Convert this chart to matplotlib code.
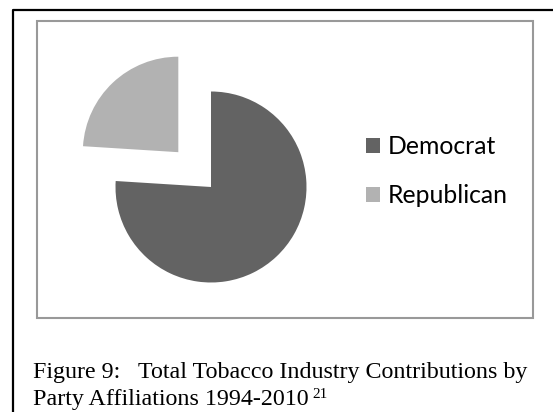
import matplotlib
matplotlib.use('Agg')
import matplotlib.pyplot as plt
from matplotlib.lines import Line2D
from matplotlib.patches import Rectangle

parties = ['Democrat', 'Republican']
shares = [76, 24]
colors = ['#636363', '#b2b2b2']
caption_1 = 'Figure 9:   Total Tobacco Industry Contributions by'
caption_2 = 'Party Affiliations 1994-2010'
footnote = '21'

W, H = 553, 412
fig = plt.figure(figsize=(W / 100, H / 100), dpi=100)

def px(x, y):
    # pixel coords (top-left origin) -> figure fraction
    return x / W, 1 - y / H

# pie axes: 1 data unit = 95.5 px, wedge apex at (211, 187)
r = 95.5
cx, cy = 211, 187
ax = fig.add_axes([(cx - 1.25 * r) / W, (H - cy - 1.25 * r) / H,
                   2.5 * r / W, 2.5 * r / H])
wedges, _ = ax.pie(shares, colors=colors, startangle=90, counterclock=False,
                   explode=[0, 0.5], wedgeprops=dict(linewidth=0))
ax.set_xlim(-1.25, 1.25)
ax.set_ylim(-1.25, 1.25)
ax.set_aspect('equal')

# legend
lx, ly = px(366, 171)
fig.legend(wedges, parties, loc='center left', bbox_to_anchor=(lx, ly),
           frameon=False, handlelength=0.56, handleheight=0.56,
           handletextpad=0.3, labelspacing=1.05, borderpad=0, borderaxespad=0,
           prop={'family': 'Lato', 'size': 17.8})

# chart frame (gray) and page frame (black)
x0, y0 = px(36.7, 318.3)
x1, y1 = px(533.3, 21)
fig.patches.append(Rectangle((x0, y0), x1 - x0, y1 - y0, transform=fig.transFigure,
                             fill=False, edgecolor='#999999', linewidth=1.5))
bx, by = px(13, 10)
fig.lines.append(Line2D([bx, bx, 1], [0, by, by], transform=fig.transFigure,
                        color='black', linewidth=1.6))

# caption
tx, ty = px(33, 378)
fig.text(tx, ty, caption_1, family='Liberation Serif', fontsize=17.3, va='baseline')
tx2, ty2 = px(33, 405)
t2 = fig.text(tx2, ty2, caption_2, family='Liberation Serif', fontsize=17.3, va='baseline')
ax.annotate(footnote, xy=(1, 1), xycoords=t2, xytext=(3, 1), textcoords='offset points',
            family='Liberation Serif', fontsize=11, va='top', ha='left',
            annotation_clip=False)
plt.savefig('out.png', dpi=100)
